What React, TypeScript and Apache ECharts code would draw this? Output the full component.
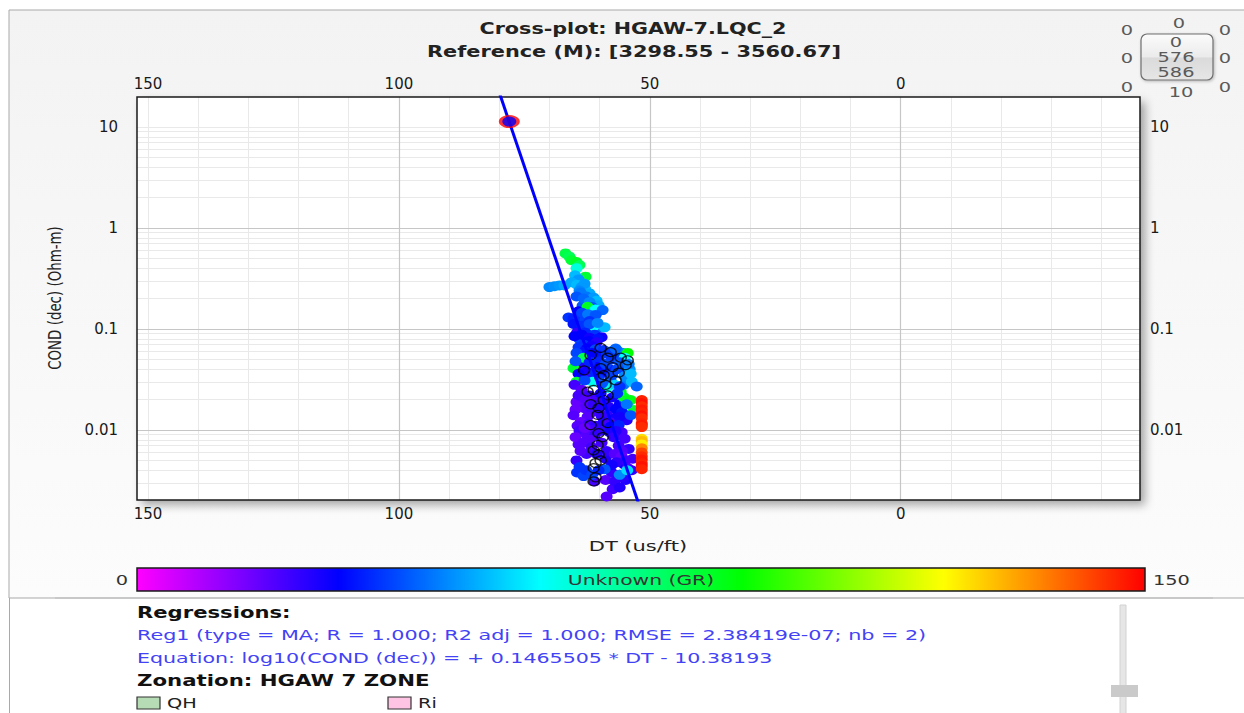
import React, { useEffect, useRef } from "react";
import * as echarts from "echarts";

// ---- axis extents / ticks ----
const X_MIN = -47.7;
const X_MAX = 152.2;
const Y_MIN = 0.00203;
const Y_MAX = 19.8;
const X_MAJOR = [0, 50, 100];
const X_MINOR = [-40, -30, -20, -10, 10, 20, 30, 40, 60, 70, 80, 90, 110, 120, 130, 140, 150];
const Y_MAJOR = [0.01, 0.1, 1];
const Y_MINOR = [
  0.003, 0.004, 0.005, 0.006, 0.007, 0.008, 0.009,
  0.02, 0.03, 0.04, 0.05, 0.06, 0.07, 0.08, 0.09,
  0.2, 0.3, 0.4, 0.5, 0.6, 0.7, 0.8, 0.9,
  2, 3, 4, 5, 6, 7, 8, 9, 10,
];
const GR_MIN = 0;
const GR_MAX = 150;
const GR_COLORS = ["#ff00ff", "#0000ff", "#00ffff", "#00ff00", "#ffff00", "#ff0000"];

// ---- regression ----
const REG_SLOPE = 0.1465505;
const REG_INTERCEPT = -10.38193;
const REG_DT_RANGE = [50, 82];
const REG_POINTS = [[78.0, 11.3]];

// ---- points: [DT, COND, GR] ----
const POINTS_TOP = [
  [66.8, 0.56, 82], [66.0, 0.52, 80], [65.6, 0.48, 84], [64.6, 0.46, 86], [64.0, 0.43, 80],
  [64.6, 0.40, 64], [62.8, 0.33, 84], [64.9, 0.34, 52], [64.2, 0.31, 48],
  [70.0, 0.26, 46], [69.0, 0.265, 47], [68.0, 0.27, 48], [67.0, 0.27, 50],
  [65.6, 0.29, 50], [64.5, 0.275, 52], [63.6, 0.26, 48], [62.8, 0.245, 52], [62.0, 0.225, 50],
  [63.0, 0.28, 48], [64.0, 0.24, 46], [62.6, 0.21, 44], [61.4, 0.19, 46], [63.4, 0.17, 40],
  [61.2, 0.205, 48], [60.6, 0.19, 52], [60.2, 0.172, 50], [63.8, 0.23, 44], [64.6, 0.21, 40],
  [63.2, 0.2, 42], [62.0, 0.185, 46], [61.5, 0.165, 40], [60.2, 0.15, 46], [64.2, 0.15, 30],
  [62.4, 0.166, 86], [60.8, 0.156, 60], [59.4, 0.154, 42],
  [66.2, 0.13, 36], [65.2, 0.128, 34], [64.0, 0.127, 36], [62.8, 0.125, 38], [61.8, 0.13, 44],
  [63.5, 0.145, 38], [62.3, 0.14, 44], [60.8, 0.138, 40], [62.0, 0.12, 36], [60.6, 0.1, 42],
  [61.3, 0.105, 60], [59.0, 0.104, 52], [65.2, 0.112, 32], [63.4, 0.108, 36], [62.0, 0.112, 40], [60.4, 0.115, 46],
  [64.5, 0.092, 24], [62.8, 0.092, 34], [61.0, 0.088, 36], [59.6, 0.083, 28], [64.0, 0.079, 38],
  [63.6, 0.088, 30], [62.0, 0.082, 28], [60.4, 0.08, 32], [65.0, 0.085, 30], [63.0, 0.064, 32],
  [62.2, 0.076, 30], [60.6, 0.074, 26], [63.2, 0.07, 36], [61.6, 0.068, 28],
];
const POINTS_MID = [
  [64.2, 0.066, 36], [62.5, 0.064, 30], [60.8, 0.063, 38], [59.2, 0.062, 36], [57.8, 0.06, 40],
  [56.3, 0.06, 44], [55.3, 0.058, 46], [60.2, 0.055, 32], [57.0, 0.054, 38], [63.6, 0.056, 34],
  [63.0, 0.06, 32], [61.5, 0.058, 30], [58.5, 0.057, 36], [56.8, 0.064, 42], [64.6, 0.058, 38],
  [62.8, 0.05, 28], [60.0, 0.048, 34], [57.6, 0.05, 36], [55.6, 0.042, 40], [63.6, 0.043, 26],
  [60.5, 0.042, 30], [58.0, 0.04, 34], [62.5, 0.038, 28], [59.0, 0.037, 32], [56.5, 0.04, 38],
  [54.0, 0.04, 48], [60.2, 0.032, 36], [57.8, 0.031, 42], [55.2, 0.028, 44], [62.0, 0.033, 24],
  [65.2, 0.041, 84], [63.2, 0.052, 80], [54.4, 0.058, 90], [55.0, 0.052, 60], [64.8, 0.048, 40],
  [62.0, 0.047, 34], [58.8, 0.045, 38], [56.0, 0.047, 40], [54.2, 0.045, 44], [64.2, 0.036, 30],
  [61.0, 0.036, 34], [57.5, 0.035, 38], [55.0, 0.034, 46], [53.8, 0.036, 52],
  [64.6, 0.030, 84], [61.4, 0.030, 62], [58.6, 0.026, 64], [55.8, 0.024, 86], [53.6, 0.030, 52],
  [52.6, 0.027, 42], [63.0, 0.031, 38], [59.5, 0.029, 40], [57.0, 0.028, 55], [56.0, 0.027, 36],
];
const POINTS_LOW = [
  [65.0, 0.028, 22], [63.6, 0.025, 20], [62.0, 0.022, 24], [60.5, 0.020, 22], [59.0, 0.019, 25],
  [57.5, 0.021, 28], [56.0, 0.018, 30], [64.6, 0.019, 18], [63.0, 0.0165, 20], [61.5, 0.015, 22],
  [64.2, 0.022, 22], [62.8, 0.02, 20], [61.2, 0.018, 24], [59.8, 0.023, 28], [58.2, 0.017, 26],
  [56.8, 0.016, 30], [55.0, 0.02, 36], [64.8, 0.016, 18], [62.4, 0.0135, 20], [59.6, 0.0138, 24],
  [60.0, 0.0165, 26], [58.5, 0.014, 24], [57.0, 0.013, 28], [55.5, 0.015, 32], [54.6, 0.0125, 26],
  [65.2, 0.014, 20], [63.8, 0.012, 18], [62.2, 0.0115, 22], [60.8, 0.011, 24], [59.2, 0.012, 26],
  [58.0, 0.012, 22], [56.0, 0.0135, 28], [64.4, 0.011, 20], [61.6, 0.01, 22], [59.8, 0.0098, 24],
  [57.8, 0.0108, 30], [56.2, 0.0112, 34], [64.0, 0.0098, 22], [62.6, 0.009, 20], [61.0, 0.0088, 24],
  [58.0, 0.0095, 28], [55.6, 0.0095, 22], [56.8, 0.0098, 26], [63.0, 0.0105, 18],
  [55.2, 0.0212, 86], [53.8, 0.0198, 88], [53.2, 0.0158, 84], [53.8, 0.014, 40], [54.6, 0.018, 44], [56.5, 0.023, 36],
  [57.2, 0.0085, 24], [55.0, 0.0082, 22], [62.0, 0.008, 20], [59.6, 0.0075, 22], [56.2, 0.007, 22],
  [54.2, 0.0065, 24], [64.2, 0.0072, 20], [62.6, 0.0058, 22], [58.8, 0.0052, 26], [55.6, 0.0062, 20],
  [53.4, 0.0052, 22], [64.6, 0.005, 24], [57.6, 0.0038, 24], [54.8, 0.0032, 26], [57.4, 0.0026, 22], [55.2, 0.0046, 30],
  [64.8, 0.0085, 18], [63.2, 0.0075, 20], [61.6, 0.0068, 22], [58.6, 0.0062, 24], [57.0, 0.0058, 20],
  [55.6, 0.0055, 18], [54.8, 0.005, 22], [63.8, 0.0062, 20], [56.6, 0.0048, 25], [54.4, 0.0042, 20],
  [53.6, 0.0040, 24], [60.6, 0.0058, 26], [57.6, 0.0045, 28], [56.0, 0.0036, 22], [58.8, 0.0032, 20],
  [57.0, 0.0031, 24], [56.0, 0.0027, 26], [58.6, 0.0022, 20], [61.0, 0.0031, 22], [55.4, 0.0034, 25],
  [64.5, 0.0038, 36], [63.2, 0.0035, 38], [59.0, 0.0041, 40],
  [62.7, 0.0040, 36], [61.5, 0.0036, 38], [60.2, 0.0040, 34], [56.0, 0.0036, 46], [54.5, 0.0040, 56], [64.0, 0.0043, 36],
];
const POINTS_RED = [
  [51.6, 0.0198, 146], [51.6, 0.0185, 148], [51.6, 0.0172, 145], [51.6, 0.016, 147], [51.6, 0.015, 146],
  [51.6, 0.014, 148], [51.6, 0.0131, 145], [51.6, 0.0117, 146], [51.6, 0.0112, 147], [51.6, 0.0107, 145],
  [51.6, 0.0082, 124], [51.6, 0.0078, 128], [51.6, 0.0072, 122], [51.6, 0.0066, 134], [51.6, 0.006, 142],
  [51.6, 0.0055, 145], [51.6, 0.0051, 147], [51.6, 0.0047, 146], [51.6, 0.0044, 148], [51.6, 0.0041, 146],
];
// hollow black markers: [DT, COND]
const HOLLOW = [
  [59.8, 0.065], [58.4, 0.052], [55.8, 0.052], [54.4, 0.049], [57.4, 0.042], [59.8, 0.041],
  [63.1, 0.039], [59.2, 0.035], [56.2, 0.037], [54.8, 0.044], [59.8, 0.033], [57.8, 0.059],
  [61.8, 0.055], [56.8, 0.031], [58.8, 0.028],
  [62.4, 0.024], [61.2, 0.025], [58.4, 0.022], [61.8, 0.018], [60.2, 0.0165], [60.4, 0.0141], [59.2, 0.0198],
  [61.8, 0.0112], [58.4, 0.0117], [60.2, 0.0093], [59.4, 0.0085], [60.4, 0.0071], [61.2, 0.0063],
  [60.2, 0.0057], [60.8, 0.0047], [61.2, 0.0042], [60.8, 0.0034], [61.2, 0.0031], [59.8, 0.005],
];

// ---- texts ----
const TITLE = "Cross-plot: HGAW-7.LQC_2";
const SUBTITLE = "Reference (M): [3298.55 - 3560.67]";
const X_NAME = "DT (us/ft)";
const Y_NAME = "COND (dec) (Ohm-m)";
const COLOR_LABEL = "Unknown (GR)";
const REG_HEADER = "Regressions:";
const REG_LINE1 = "Reg1 (type = MA; R = 1.000; R2 adj = 1.000; RMSE = 2.38419e-07; nb = 2)";
const REG_LINE2 = "Equation: log10(COND (dec)) = + 0.1465505 * DT - 10.38193";
const ZONE_HEADER = "Zonation: HGAW 7 ZONE";
const ZONES = [
  { name: "QH", color: "#b5dcb5" },
  { name: "Ri", color: "#ffc4e4" },
];

const FONT = '"DejaVu Sans", Verdana, sans-serif';

const GRID = { left: 137, top: 97, width: 1003, height: 403 };

function xLabel(v: number) {
  if (v < 0 || Math.abs(v / 50 - Math.round(v / 50)) > 1e-6) return "";
  return String(Math.round(v));
}
function yLabel(v: number) {
  const e = Math.log10(v);
  const r = Math.round(e);
  if (Math.abs(e - r) > 1e-6) return "";
  return r >= 0 ? String(Math.pow(10, r)) : Math.pow(10, r).toFixed(-r);
}

function txt(text: string, x: number, y: number, o: any = {}) {
  return {
    type: "text",
    x,
    y,
    scaleX: o.scaleX ?? 1.38,
    scaleY: o.scaleY ?? 1,
    rotation: o.rotation ?? 0,
    z: 10,
    style: {
      text,
      textAlign: o.align ?? "left",
      textVerticalAlign: "middle",
      verticalAlign: "middle",
      fontSize: o.size ?? 13,
      fontWeight: o.bold ? "bold" : "normal",
      fontFamily: FONT,
      fill: o.color ?? "#222",
    },
  };
}

export default function App() {
  const ref = useRef<HTMLDivElement>(null);
  useEffect(() => {
    if (!ref.current) return;
    const chart = echarts.init(ref.current, undefined, { renderer: "svg" });

    const gridLines = (xs: number[], ys: number[]) => [
      ...xs.map((x) => ({ coords: [[x, Y_MIN], [x, Y_MAX]] })),
      ...ys.map((y) => ({ coords: [[X_MIN, y], [X_MAX, y]] })),
    ];
    const regLine = REG_DT_RANGE.map((dt) => [dt, Math.pow(10, REG_SLOPE * dt + REG_INTERCEPT)]);
    const colored = [...POINTS_TOP, ...POINTS_MID, ...POINTS_LOW, ...POINTS_RED];

    const axisLabelStyle = { fontSize: 15, fontFamily: FONT, color: "#1a1a1a" };

    const barX = 137, barY = 568, barW = 1008, barH = 23;
    const wc = "#5a5a5a";

    chart.setOption({
      animation: false,
      backgroundColor: "#ffffff",
      grid: { ...GRID, show: true, backgroundColor: "transparent", borderColor: "#1a1a1a", borderWidth: 1.5, z: 3 },
      xAxis: [
        {
          type: "value", position: "bottom", inverse: true, min: X_MIN, max: X_MAX, splitNumber: 4,
          axisLine: { show: false }, axisTick: { show: false }, splitLine: { show: false },
          axisLabel: { ...axisLabelStyle, formatter: xLabel, margin: 6 },
        },
        {
          type: "value", position: "top", inverse: true, min: X_MIN, max: X_MAX, splitNumber: 4,
          axisLine: { show: false }, axisTick: { show: false }, splitLine: { show: false },
          axisLabel: { ...axisLabelStyle, formatter: xLabel, margin: 6 },
        },
      ],
      yAxis: [
        {
          type: "log", logBase: 10, position: "left", min: Y_MIN, max: Y_MAX,
          axisLine: { show: false }, axisTick: { show: false }, splitLine: { show: false },
          axisLabel: { ...axisLabelStyle, formatter: yLabel, margin: 19 },
        },
        {
          type: "log", logBase: 10, position: "right", min: Y_MIN, max: Y_MAX,
          axisLine: { show: false }, axisTick: { show: false }, splitLine: { show: false },
          axisLabel: { ...axisLabelStyle, formatter: yLabel, margin: 10 },
        },
      ],
      visualMap: {
        type: "continuous", show: false, min: GR_MIN, max: GR_MAX, dimension: 2, seriesIndex: 2,
        inRange: { color: GR_COLORS },
      },
      series: [
        {
          type: "lines", coordinateSystem: "cartesian2d", silent: true, z: 1,
          lineStyle: { color: "#e9e9e9", width: 1, opacity: 1 },
          data: gridLines(X_MINOR, Y_MINOR),
        },
        {
          type: "lines", coordinateSystem: "cartesian2d", silent: true, z: 1,
          lineStyle: { color: "#c6c6c6", width: 1.2, opacity: 1 },
          data: gridLines(X_MAJOR, Y_MAJOR),
        },
        {
          type: "scatter", symbol: "circle", symbolSize: [12, 10], z: 4,
          itemStyle: { opacity: 1 },
          data: colored,
        },
        {
          type: "scatter", symbol: "circle", symbolSize: [11, 9], z: 5,
          itemStyle: { color: "rgba(0,0,0,0)", borderColor: "#000", borderWidth: 1.3 },
          data: HOLLOW,
        },
        {
          type: "line", showSymbol: false, z: 6, clip: true,
          lineStyle: { color: "#0000ff", width: 3 },
          data: regLine,
        },
        {
          type: "scatter", symbol: "circle", symbolSize: [21, 13], z: 7,
          itemStyle: { color: "#ff0000" },
          data: REG_POINTS,
        },
        {
          type: "scatter", symbol: "circle", symbolSize: [14, 10], z: 8,
          itemStyle: { color: "#0000ff" },
          data: REG_POINTS,
        },
      ],
      graphic: [
        // panel background
        {
          type: "rect", z: -10, silent: true,
          shape: { x: 9, y: 10, width: 1240, height: 588 },
          style: {
            fill: { type: "linear", x: 0, y: 0, x2: 0, y2: 1, colorStops: [
              { offset: 0, color: "#f3f3f3" }, { offset: 1, color: "#fcfcfc" } ] },
            stroke: "#a9a9a9", lineWidth: 1,
          },
        },
        { type: "rect", z: -9, shape: { x: 9.5, y: 599, width: 1240, height: 120 },
          style: { fill: "#ffffff" } },
        { type: "line", z: -8, shape: { x1: 9.5, y1: 598, x2: 9.5, y2: 713 },
          style: { stroke: "#a9a9a9", lineWidth: 1 } },
        { type: "line", z: -8, shape: { x1: 55, y1: 598, x2: 1213, y2: 598 },
          style: { stroke: "#c4c4c4", lineWidth: 1.5 } },
        // plot shadow / background
        {
          type: "rect", z: -5,
          shape: { x: GRID.left, y: GRID.top, width: GRID.width, height: GRID.height },
          style: { fill: "#ffffff", shadowBlur: 10, shadowOffsetX: 5, shadowOffsetY: 5, shadowColor: "rgba(0,0,0,0.35)" },
        },
        // titles
        txt(TITLE, 633, 29, { align: "center", bold: true, size: 15, scaleX: 1.38 }),
        txt(SUBTITLE, 634, 52, { align: "center", bold: true, size: 15, scaleX: 1.39 }),
        // axis names
        txt(X_NAME, 638, 546, { align: "center", size: 14, scaleX: 1.5 }),
        txt(Y_NAME, 55, 298, { align: "center", size: 13, scaleX: 1.03, scaleY: 1.35, rotation: Math.PI / 2 }),
        // top-right widget
        {
          type: "rect", z: 9,
          shape: { x: 1141, y: 34, width: 72, height: 46, r: 6 },
          style: {
            fill: { type: "linear", x: 0, y: 0, x2: 0, y2: 1, colorStops: [
              { offset: 0, color: "#fbfbfb" }, { offset: 0.5, color: "#ebebeb" },
              { offset: 0.52, color: "#dadada" }, { offset: 1, color: "#e6e6e6" } ] },
            stroke: "#6e6e6e", lineWidth: 1.2,
            shadowBlur: 3, shadowOffsetX: 1, shadowOffsetY: 1, shadowColor: "rgba(0,0,0,0.25)",
          },
        },
        txt("0", 1127, 30, { align: "center", color: wc, size: 14 }),
        txt("0", 1179, 23, { align: "center", color: wc, size: 14 }),
        txt("0", 1225, 30, { align: "center", color: wc, size: 14 }),
        txt("0", 1127, 58, { align: "center", color: wc, size: 14 }),
        txt("0", 1225, 58, { align: "center", color: wc, size: 14 }),
        txt("0", 1127, 87, { align: "center", color: wc, size: 14 }),
        txt("10", 1181, 92, { align: "center", color: wc, size: 14 }),
        txt("0", 1225, 87, { align: "center", color: wc, size: 14 }),
        txt("0", 1176, 42, { align: "center", color: wc, size: 14 }),
        txt("576", 1176, 57, { align: "center", color: wc, size: 14 }),
        txt("586", 1176, 72, { align: "center", color: wc, size: 14 }),
        // colour bar
        {
          type: "rect", z: 9,
          shape: { x: barX, y: barY, width: barW, height: barH },
          style: {
            fill: { type: "linear", x: 0, y: 0, x2: 1, y2: 0,
              colorStops: GR_COLORS.map((c, i) => ({ offset: i / (GR_COLORS.length - 1), color: c })) },
            stroke: "#1a1a1a", lineWidth: 1.5,
          },
        },
        txt(COLOR_LABEL, barX + barW / 2, barY + barH / 2 + 1, { align: "center", size: 14, color: "#333", scaleX: 1.45 }),
        txt(String(GR_MIN), barX - 9, barY + barH / 2 + 1, { align: "right", size: 14, color: "#333" }),
        txt(String(GR_MAX), barX + barW + 8, barY + barH / 2 + 1, { align: "left", size: 14, color: "#333" }),
        // regression text
        txt(REG_HEADER, 137, 613, { bold: true, size: 15, color: "#111", scaleX: 1.41 }),
        txt(REG_LINE1, 137, 635, { size: 14, color: "#4343f5", scaleX: 1.48 }),
        txt(REG_LINE2, 137, 658, { size: 14, color: "#4343f5", scaleX: 1.47 }),
        txt(ZONE_HEADER, 137, 681, { bold: true, size: 15, color: "#111", scaleX: 1.42 }),
        ...ZONES.flatMap((zn, i) => [
          { type: "rect", z: 10, shape: { x: 137 + i * 251, y: 697, width: 23, height: 12 },
            style: { fill: zn.color, stroke: "#333", lineWidth: 1.2 } },
          txt(zn.name, 167 + i * 251, 703, { size: 14, color: "#222" }),
        ]),
        // slider
        { type: "rect", z: 9, shape: { x: 1120, y: 605, width: 6, height: 110 },
          style: { fill: "#e6e6e6", stroke: "#d2d2d2", lineWidth: 1 } },
        { type: "rect", z: 10, shape: { x: 1111, y: 685, width: 27, height: 12 },
          style: { fill: "#cacaca" } },
      ],
    });
    return () => chart.dispose();
  }, []);
  return <div ref={ref} style={{ position: "absolute", left: 0, top: 0, width: 1244, height: 713 }} />;
}
